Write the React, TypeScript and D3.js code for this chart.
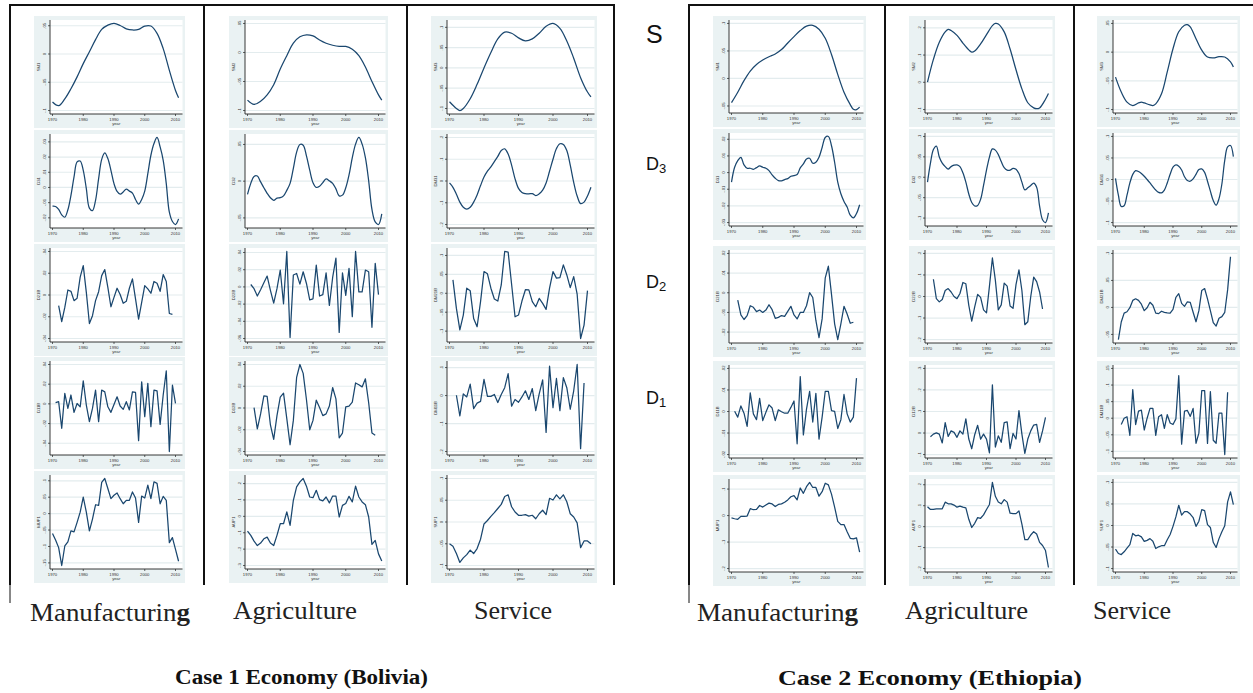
import React from "react";
import * as d3 from "d3";

type Pt = [number, number];

const NAVY = "#1a476f";
const GRAPH_BG = "#eaf2f3";
const GRID = "#e3ecee";

const X_TICKS = [1970, 1980, 1990, 2000, 2010];
const ROW_KEYS = ["S", "D3", "D2", "D1", "UP"];

// ---------- Case 1: Bolivia ----------
const bolManufS: Pt[] = [[1970,0.30],[1972,0.17],[1974,0.41],[1976,0.77],[1978,1.19],[1980,1.66],[1982,2.08],[1984,2.51],[1986,2.87],[1988,3.02],[1990,3.08],[1992,3.01],[1994,2.89],[1996,2.85],[1998,2.87],[2000,2.99],[2002,2.99],[2004,2.73],[2006,2.19],[2008,1.42],[2010,0.71],[2011,0.45]];
const bolManufD3 = [0.77,0.75,0.55,0.2,0.04,0.53,1.48,2.69,3.68,3.74,3.13,1.92,0.64,0.48,1.15,2.58,3.85,4.27,3.9,3.13,2.25,1.74,1.56,1.7,1.89,1.76,1.63,1.21,0.9,1.21,1.76,2.91,4.12,4.89,5.29,4.67,3.79,2.25,0.37,-0.24,-0.44,-0.07];
const bolManufD2 = [1.51,0.78,1.43,2.23,2.17,1.74,1.85,2.82,3.35,2.12,0.69,1.05,1.74,2.15,2.89,3.17,2.35,1.46,1.89,2.31,2.02,1.62,1.71,2.31,2.74,1.82,0.89,1.66,2.43,2.28,2.08,2.62,2.54,2.17,2.94,2.62,1.15,1.11];
const bolManufD1 = [2.06,2.11,0.76,2.53,1.77,2.45,1.57,2.02,1.85,3.17,1.94,1.1,1.77,2.7,1.1,2.7,2.61,1.85,1.57,1.97,2.36,1.89,1.72,2.11,1.69,2.61,2.58,0.13,3.12,1.35,3.04,0.84,2.7,2.66,0.96,2.45,3.68,-0.42,2.95,2.02];
const bolManufUP = [1.79,1.4,0.93,-0.16,1.03,1.28,1.95,1.89,2.47,3.09,4.01,3.09,1.95,2.67,3.54,3.5,4.9,5.14,4.53,3.91,4.12,4.26,3.91,3.6,3.81,3.81,4.32,3.95,2.47,4.07,3.95,4.73,3.91,4.94,4.84,3.6,4.05,3.81,1.23,1.54,0.82,0.1];

const bolAgriS: Pt[] = [[1970,0.36],[1972,0.21],[1974,0.32],[1976,0.54],[1978,0.89],[1980,1.43],[1982,1.89],[1984,2.32],[1986,2.54],[1988,2.61],[1990,2.57],[1992,2.43],[1994,2.32],[1996,2.25],[1998,2.21],[2000,2.21],[2002,2.11],[2004,1.89],[2006,1.5],[2008,1.0],[2010,0.54],[2011,0.36]];
const bolAgriD3 = [0.64,0.94,1.13,1.14,0.98,0.82,0.67,0.55,0.48,0.54,0.55,0.6,0.75,0.94,1.35,1.79,2.0,1.98,1.69,1.3,0.96,0.83,0.86,0.96,1.06,1.01,0.94,0.79,0.6,0.62,0.82,1.17,1.64,2.01,2.19,2.01,1.64,1.01,0.23,-0.11,-0.18,0.11];
const bolAgriD2 = [3.14,2.9,2.47,2.84,3.24,3.63,2.8,2.06,2.9,3.98,2.02,5.06,0.06,3.69,3.78,3.16,3.88,3.2,2.25,2.31,4.27,2.47,2.55,3.82,1.92,3.55,4.67,0.35,3.82,2.51,4.08,1.27,5.06,2.71,2.71,3.98,3.88,0.65,4.37,2.55];
const bolAgriD1 = [2.02,1.04,1.73,2.56,2.53,1.22,0.56,1.65,2.5,2.68,1.51,0.31,1.43,3.41,4.0,3.59,2.39,1.0,1.43,2.36,2.02,1.65,1.73,2.09,2.94,2.42,0.63,0.85,2.05,2.09,2.27,3.15,3.07,2.97,3.34,2.24,0.85,0.75];
const bolAgriUP = [2.1,1.84,1.49,1.22,1.37,1.63,1.73,1.37,1.22,1.84,2.55,2.55,3.27,2.45,3.98,4.8,5.1,5.31,4.84,4.18,4.14,4.59,4.02,3.94,4.18,3.82,4.24,4.24,2.96,3.67,3.78,4.22,3.88,4.84,4.18,3.88,3.71,2.96,1.29,1.53,0.71,0.27];

const bolServS: Pt[] = [[1970,0.33],[1972,0.0],[1973,-0.1],[1974,0.0],[1976,0.48],[1978,1.19],[1980,2.0],[1982,2.76],[1984,3.43],[1986,3.76],[1988,3.71],[1990,3.48],[1992,3.33],[1994,3.43],[1996,3.71],[1998,4.05],[2000,4.19],[2002,3.95],[2004,3.33],[2006,2.48],[2008,1.52],[2010,0.81],[2011,0.57]];
const bolServD3 = [1.91,1.71,1.39,1.03,0.79,0.71,0.79,1.03,1.36,1.79,2.18,2.45,2.65,2.89,3.13,3.4,3.48,3.24,2.73,2.1,1.66,1.47,1.42,1.41,1.42,1.33,1.41,1.58,1.91,2.45,3.0,3.49,3.71,3.68,3.4,2.73,1.94,1.31,0.96,1.03,1.31,1.71];
const bolServD2 = [2.71,1.2,0.07,0.85,2.27,2.14,0.67,0.23,1.56,3.15,3.03,2.27,1.7,1.59,2.44,4.21,4.18,2.48,0.76,0.85,1.59,2.19,2.18,1.56,1.29,1.73,1.47,1.15,2.27,3.15,2.8,2.83,3.5,2.97,2.3,2.88,1.95,-0.39,0.32,2.14];
const bolServD1 = [2.01,1.27,2.06,1.95,2.41,1.53,1.73,1.79,2.58,1.97,1.97,2.04,1.75,2.04,2.28,2.78,1.62,1.86,1.76,1.95,2.17,1.86,2.25,1.46,2.06,2.56,0.68,3.05,1.57,2.61,1.46,2.64,2.28,1.51,2.17,3.11,0.1,2.45];
const bolServUP = [1.0,0.89,0.55,0.14,0.35,0.5,0.71,0.55,0.78,1.21,1.91,2.07,2.26,2.43,2.62,2.81,3.17,3.25,2.7,2.46,2.31,2.31,2.34,2.27,2.31,2.15,2.38,2.54,2.34,3.09,3.01,3.25,3.06,3.25,2.93,2.38,2.23,1.96,0.82,1.13,1.13,1.0];

// ---------- Case 2: Ethiopia ----------
const ethManufS: Pt[] = [[1970,0.12],[1972,0.5],[1974,0.92],[1976,1.27],[1978,1.51],[1980,1.67],[1982,1.79],[1984,1.89],[1986,2.05],[1988,2.29],[1990,2.52],[1992,2.74],[1994,2.9],[1996,2.93],[1998,2.79],[2000,2.46],[2002,1.87],[2004,1.15],[2006,0.5],[2008,0.05],[2009,-0.12],[2010,-0.13],[2011,-0.04]];
const ethManufD3 = [2.43,3.32,3.72,3.92,3.46,3.26,3.26,3.2,3.3,3.4,3.32,3.26,3.12,2.86,2.66,2.52,2.5,2.58,2.64,2.78,2.82,2.88,3.28,3.52,3.82,3.86,3.56,3.62,3.92,4.51,5.11,5.17,4.61,3.62,2.43,1.73,1.27,0.93,0.44,0.28,0.54,1.07];
const ethManufD2 = [1.62,0.87,0.64,0.84,1.34,1.26,1.04,1.12,1.0,1.12,1.39,1.14,0.7,0.75,0.84,0.8,1.05,1.31,0.87,0.67,1.0,1.0,1.34,2.01,1.76,0.59,-0.28,0.67,2.76,3.35,1.92,0.42,-0.38,0.42,1.31,0.92,0.45,0.5];
const ethManufD1 = [2.01,1.74,2.26,1.92,1.31,2.87,1.89,1.62,2.61,1.58,1.96,2.31,2.16,1.58,2.08,1.99,1.92,1.92,2.19,2.49,0.5,3.62,0.91,2.11,2.94,1.51,2.84,0.72,1.74,2.94,2.94,2.04,2.01,1.21,1.62,2.79,1.89,1.51,1.74,3.55];
const ethManufUP = [1.91,1.88,1.86,1.97,1.97,1.98,2.26,2.22,2.23,2.38,2.32,2.4,2.47,2.44,2.34,2.42,2.44,2.5,2.59,2.71,2.75,2.59,3.04,2.84,3.09,3.25,3.06,3.06,2.73,2.9,3.22,3.16,2.81,2.32,1.78,1.66,1.66,1.39,1.14,1.12,1.16,0.62];

const ethAgriS: Pt[] = [[1970,1.01],[1972,1.84],[1974,2.47],[1976,2.85],[1977,2.94],[1978,2.9],[1980,2.72],[1982,2.44],[1984,2.19],[1985,2.11],[1986,2.15],[1988,2.41],[1990,2.75],[1992,3.08],[1993,3.16],[1994,3.14],[1996,2.85],[1998,2.22],[2000,1.46],[2002,0.76],[2004,0.25],[2006,0.06],[2007,0.03],[2008,0.06],[2010,0.38],[2011,0.59]];
const ethAgriD3 = [1.76,2.69,3.36,3.53,2.99,2.69,2.52,2.4,2.52,2.59,2.61,2.52,2.22,1.76,1.18,0.76,0.59,0.62,0.92,1.6,2.35,2.99,3.39,3.33,3.11,2.77,2.47,2.35,2.35,2.44,2.39,2.18,1.76,1.38,1.48,1.6,1.71,1.51,0.59,-0.08,-0.22,0.25];
const ethAgriD2 = [2.8,1.9,1.75,1.86,2.28,2.37,2.21,2.0,1.9,2.14,2.65,2.59,1.59,0.86,1.52,2.1,1.96,1.38,1.24,2.48,3.79,2.76,1.38,1.61,2.62,2.48,1.56,1.45,2.55,3.24,2.28,0.69,0.83,2.0,2.9,2.69,2.21,1.42];
const ethAgriD1 = [0.83,0.95,1.01,0.95,0.54,1.48,0.84,1.1,1.03,0.8,1.1,0.95,1.66,0.72,0.27,0.92,1.36,0.72,0.95,0.72,0.08,3.24,0.35,0.87,0.57,1.48,1.52,0.27,0.98,0.72,2.04,0.95,0.05,0.72,1.1,1.37,1.4,0.57,1.1,1.73];
const ethAgriUP = [2.95,2.82,2.82,2.85,2.85,2.85,3.17,3.09,3.09,3.03,2.93,2.98,2.93,2.9,2.35,1.96,2.16,2.43,2.4,2.56,2.82,3.06,4.11,3.45,3.18,3.09,3.29,3.17,2.64,2.62,2.62,2.75,2.12,1.38,1.38,1.6,1.76,1.65,1.25,1.1,0.86,0.05];

const ethServS: Pt[] = [[1970,1.13],[1972,0.61],[1974,0.26],[1976,0.14],[1978,0.23],[1979,0.26],[1980,0.23],[1982,0.16],[1983,0.14],[1984,0.2],[1986,0.55],[1988,1.31],[1990,2.12],[1992,2.71],[1994,2.94],[1995,2.96],[1996,2.88],[1998,2.47],[2000,2.07],[2002,1.83],[2004,1.8],[2006,1.84],[2008,1.83],[2010,1.66],[2011,1.48]];
const ethServD3 = [2.05,1.27,0.75,0.78,1.27,1.84,2.24,2.41,2.37,2.28,2.15,2.0,1.84,1.67,1.51,1.4,1.38,1.51,1.84,2.24,2.57,2.68,2.62,2.44,2.13,1.95,1.92,2.03,2.24,2.46,2.49,2.33,1.92,1.46,1.02,0.81,1.11,1.79,2.89,3.51,3.58,3.06];
const ethServD2 = [-0.19,0.46,0.79,0.84,0.99,1.26,1.32,1.26,1.12,0.88,0.99,1.19,1.08,0.79,0.77,0.86,0.82,0.8,0.79,0.93,1.37,1.51,1.15,1.04,1.21,1.19,0.82,0.47,0.88,1.63,1.7,1.32,0.88,0.44,0.31,0.6,0.66,0.82,1.65,2.88];
const ethServD1 = [1.62,2.0,2.09,0.97,3.73,1.62,2.43,2.49,1.29,2.0,2.59,2.59,0.97,2.09,2.21,1.39,2.21,1.71,1.62,1.96,4.56,0.44,2.43,2.47,2.11,2.59,0.49,1.1,3.67,3.67,0.48,3.61,0.67,0.49,2.3,2.3,-0.19,3.57];
const ethServUP = [0.9,0.7,0.65,0.78,0.95,1.11,1.63,1.52,1.55,1.47,1.26,1.31,1.39,1.27,0.93,1.01,1.06,1.06,1.34,1.58,1.96,2.4,2.94,2.48,2.64,2.64,2.53,2.37,1.96,2.2,2.74,2.69,2.04,1.91,1.22,0.98,1.39,1.71,1.99,3.1,3.56,2.97];

// y tick labels (bottom to top) for each plot
const bolManufTicks = [["-.1","-.05","0",".05"],["-.02","-.01","0",".01",".02",".03"],["-.04","-.02","0",".02",".04"],["-.04","-.02","0",".02",".04"],["-.15","-.1","-.05","0",".05",".1"]];
const bolAgriTicks = [["-.1","-.05","0",".05"],["-.05","0",".05"],["-.06","-.04","-.02","0",".02",".04"],["-.04","-.02","0",".02",".04"],["-.3","-.2","-.1","0",".1",".2"]];
const bolServTicks = [["-.1","-.05","0",".05",".1"],["-.2","-.1","0",".1",".2"],["-.1","-.05","0",".05",".1"],["-.2","-.1","0",".1"],["-.1","-.05","0",".05",".1"]];
const ethManufTicks = [["-.05","0",".05",".1"],["-.03","-.02","-.01","0",".01",".02"],["-.02","-.01","0",".01",".02"],["-.02","-.01","0",".01",".02"],["-.2","-.1","0",".1"]];
const ethAgriTicks = [["-.1","0",".1",".2"],["-.1","-.05","0",".05",".1"],["-.2","-.1","0",".1",".2"],["-.1","0",".1",".2",".3"],["-.2","-.1","0",".1",".2"]];
const ethServTicks = [["-.1","-.05","0",".05"],["-.1","-.05","0",".05",".1"],["-.05","0",".05",".1"],["-.1","-.05","0",".05",".1",".15"],["-.1","-.05","0",".05",".1"]];

const manufTitles = ["SM1", "D31", "D21B", "D11B", "MUP1"];
const agriTitles = ["SM2", "D32", "D22B", "D12B", "AUP1"];
const servTitles = ["SM3", "DM31", "DM21B", "DM11B", "SUP1"];

const SECTORS = ["Manufacturing", "Agriculture", "Service"];
const ROW_LABELS = [
  { main: "S", sub: "" },
  { main: "D", sub: "3" },
  { main: "D", sub: "2" },
  { main: "D", sub: "1" },
];
const CAPTIONS = ["Case 1 Economy (Bolivia)", "Case 2 Economy (Ethiopia)"];

type Spec = { pts: Pt[]; smooth: boolean; ticks: string[]; title: string };

function toPts(start: number, values: number[]): Pt[] {
  return values.map((v, i) => [start + i, v] as Pt);
}

function column(S: Pt[], D3: number[], D2: number[], D2start: number, D1: number[], D1start: number, UP: number[], ticks: string[][], titles: string[]): Spec[] {
  return [
    { pts: S, smooth: true, ticks: ticks[0], title: titles[0] },
    { pts: toPts(1970, D3), smooth: true, ticks: ticks[1], title: titles[1] },
    { pts: toPts(D2start, D2), smooth: false, ticks: ticks[2], title: titles[2] },
    { pts: toPts(D1start, D1), smooth: false, ticks: ticks[3], title: titles[3] },
    { pts: toPts(1970, UP), smooth: false, ticks: ticks[4], title: titles[4] },
  ];
}

const bolCols = [
  column(bolManufS, bolManufD3, bolManufD2, 1972, bolManufD1, 1971, bolManufUP, bolManufTicks, manufTitles),
  column(bolAgriS, bolAgriD3, bolAgriD2, 1971, bolAgriD1, 1972, bolAgriUP, bolAgriTicks, agriTitles),
  column(bolServS, bolServD3, bolServD2, 1971, bolServD1, 1972, bolServUP, bolServTicks, servTitles),
];
const ethCols = [
  column(ethManufS, ethManufD3, ethManufD2, 1972, ethManufD1, 1971, ethManufUP, ethManufTicks, manufTitles),
  column(ethAgriS, ethAgriD3, ethAgriD2, 1972, ethAgriD1, 1971, ethAgriUP, ethAgriTicks, agriTitles),
  column(ethServS, ethServD3, ethServD2, 1971, ethServD1, 1972, ethServUP, ethServTicks, servTitles),
];

const PANELS = [
  {
    cols: bolCols,
    colBoxes: [{ x: 34, w: 151 }, { x: 229, w: 159 }, { x: 431, w: 166 }],
    rowsY: [16, 130, 244, 357, 471],
    h: 112,
  },
  {
    cols: ethCols,
    colBoxes: [{ x: 713, w: 153 }, { x: 909, w: 146 }, { x: 1097, w: 143 }],
    rowsY: [16, 129, 246, 361, 475],
    h: 111,
  },
];

const SMALL_FONT = "Liberation Sans, Arial, sans-serif";

function SmallPlot({ x, y, w, h, s }: { x: number; y: number; w: number; h: number; s: Spec }) {
  const left = x + 16;
  const right = x + w - 2.5;
  const top = y + 4;
  const bottom = y + h - 14;
  const n = s.ticks.length;
  const vals = s.pts.map((p) => p[1]);
  const lo = Math.min(0, d3.min(vals) as number);
  const hi = Math.max(n - 1, d3.max(vals) as number);
  const pad = (hi - lo) * 0.04;
  const ys = d3.scaleLinear().domain([lo - pad, hi + pad]).range([bottom, top]);
  const xs = d3.scaleLinear().domain([1970, 2010]).range([left + 2.5, right - 7]);
  const line = d3
    .line<Pt>()
    .x((d) => xs(d[0]))
    .y((d) => ys(d[1]))
    .curve(s.smooth ? d3.curveCatmullRom.alpha(0.5) : d3.curveLinear);
  const tickIdx = d3.range(n);
  const midY = (top + bottom) / 2;
  return (
    <g>
      <rect x={x} y={y} width={w} height={h} fill={GRAPH_BG} />
      <rect x={left} y={top} width={right - left} height={bottom - top} fill="#ffffff" />
      {tickIdx.map((i) => (
        <line key={"g" + i} x1={left} x2={right} y1={ys(i)} y2={ys(i)} stroke={GRID} strokeWidth={1.2} />
      ))}
      <path d={line(s.pts) || ""} fill="none" stroke={NAVY} strokeWidth={1.25} strokeLinejoin="round" />
      <line x1={left} x2={left} y1={top} y2={bottom} stroke="#222" strokeWidth={0.9} />
      <line x1={left} x2={right} y1={bottom} y2={bottom} stroke="#222" strokeWidth={0.9} />
      {tickIdx.map((i) => (
        <g key={"yt" + i}>
          <line x1={left - 2} x2={left} y1={ys(i)} y2={ys(i)} stroke="#222" strokeWidth={0.7} />
          <text
            transform={`translate(${left - 4},${ys(i)}) rotate(-90)`}
            textAnchor="middle"
            fontSize={4.2}
            fontFamily={SMALL_FONT}
            fill="#333"
          >
            {s.ticks[i]}
          </text>
        </g>
      ))}
      <text
        transform={`translate(${left - 10},${midY}) rotate(-90)`}
        textAnchor="middle"
        fontSize={4.2}
        fontFamily={SMALL_FONT}
        fill="#333"
      >
        {s.title}
      </text>
      {X_TICKS.map((t) => (
        <g key={"xt" + t}>
          <line x1={xs(t)} x2={xs(t)} y1={bottom} y2={bottom + 2} stroke="#222" strokeWidth={0.7} />
          <text x={xs(t)} y={bottom + 6.5} textAnchor="middle" fontSize={4.2} fontFamily={SMALL_FONT} fill="#333">
            {t}
          </text>
        </g>
      ))}
      <text x={(left + right) / 2} y={bottom + 11} textAnchor="middle" fontSize={4.2} fontFamily={SMALL_FONT} fill="#333">
        year
      </text>
    </g>
  );
}

const SERIF = "Liberation Serif, 'Times New Roman', serif";

export default function App() {
  const frame = "#111";
  return (
    <svg width={1253} height={693} style={{ position: "absolute", left: 0, top: 0, background: "#fff" }}>
      <rect x={0} y={0} width={1253} height={693} fill="#fff" />
      {/* Panel frames */}
      <line x1={9} x2={615} y1={5} y2={5} stroke={frame} strokeWidth={2} />
      <line x1={10} x2={10} y1={5} y2={585} stroke={frame} strokeWidth={2} />
      <line x1={10} x2={10} y1={585} y2={603} stroke={frame} strokeWidth={1} />
      <line x1={204} x2={204} y1={5} y2={585} stroke={frame} strokeWidth={2} />
      <line x1={407} x2={407} y1={5} y2={585} stroke={frame} strokeWidth={2} />
      <line x1={614} x2={614} y1={5} y2={585} stroke={frame} strokeWidth={2} />

      <line x1={688} x2={1253} y1={5} y2={5} stroke={frame} strokeWidth={2} />
      <line x1={689} x2={689} y1={5} y2={585} stroke={frame} strokeWidth={2} />
      <line x1={689} x2={689} y1={585} y2={603} stroke={frame} strokeWidth={1} />
      <line x1={885} x2={885} y1={5} y2={585} stroke={frame} strokeWidth={2} />
      <line x1={1074} x2={1074} y1={5} y2={585} stroke={frame} strokeWidth={2} />

      {PANELS.map((p, pi) =>
        p.cols.map((col, ci) =>
          col.map((s, ri) => (
            <SmallPlot
              key={`${pi}-${ci}-${ROW_KEYS[ri]}`}
              x={p.colBoxes[ci].x}
              y={p.rowsY[ri]}
              w={p.colBoxes[ci].w}
              h={p.h}
              s={s}
            />
          ))
        )
      )}

      {/* Row labels */}
      {ROW_LABELS.map((r, i) => {
        const ys = [43, 170, 288, 404];
        return (
          <text key={"rl" + i} x={646} y={ys[i]} fontSize={i === 0 ? 25 : 18} fontFamily="Liberation Sans, Arial, sans-serif" fill="#111">
            {r.main}
            {r.sub ? (
              <tspan fontSize={13} dy={3}>
                {r.sub}
              </tspan>
            ) : null}
          </text>
        );
      })}

      {/* Column labels */}
      {[
        { x: 30, w: 160, y: 621 },
        { x: 233, w: 124, y: 619 },
        { x: 474, w: 78, y: 619 },
        { x: 697, w: 161, y: 621 },
        { x: 905, w: 123, y: 619 },
        { x: 1093, w: 78, y: 619 },
      ].map((c, i) => {
        const label = SECTORS[i % 3];
        const isManuf = label === "Manufacturing";
        return (
          <text key={"cl" + i} x={c.x} y={c.y} fontSize={25} fontFamily={SERIF} fill="#222" textLength={c.w} lengthAdjust="spacingAndGlyphs">
            {isManuf ? (
              <>
                {label.slice(0, -1)}
                <tspan fontWeight="bold">{label.slice(-1)}</tspan>
              </>
            ) : (
              label
            )}
          </text>
        );
      })}

      {/* Captions */}
      <text x={175} y={684} fontSize={20} fontWeight="bold" fontFamily={SERIF} fill="#111" textLength={253} lengthAdjust="spacingAndGlyphs">
        {CAPTIONS[0]}
      </text>
      <text x={778} y={685} fontSize={22} fontWeight="bold" fontFamily={SERIF} fill="#111" textLength={304} lengthAdjust="spacingAndGlyphs">
        {CAPTIONS[1]}
      </text>
    </svg>
  );
}
